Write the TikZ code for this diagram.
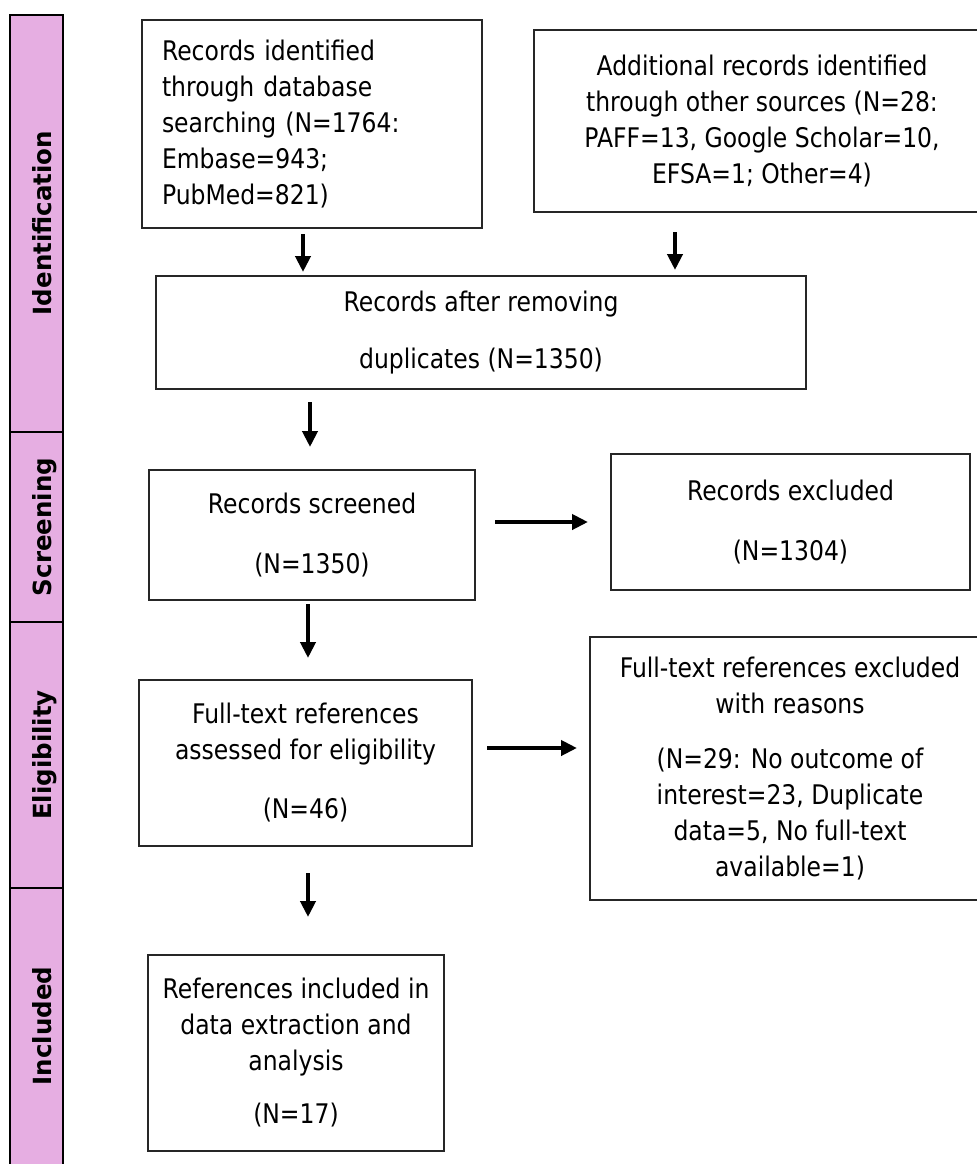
\documentclass[tikz,border=0pt]{standalone}
\usepackage{fontspec}
\setmainfont{DejaVu Sans}[FakeStretch=0.87]
\newfontfamily\barfont{DejaVu Sans}[FakeStretch=0.98]
\usepackage{tikz}
\usetikzlibrary{arrows.meta}
\definecolor{stage}{RGB}{230,174,226}
\tikzset{font=\fontsize{13.5}{18}\selectfont}
\tikzstyle{box}=[draw=black!85,line width=0.8pt,align=center,inner sep=0pt]
\tikzstyle{stagelabel}=[rotate=90,anchor=base,font=\barfont\bfseries\fontsize{12.5}{15}\selectfont]
\tikzstyle{arr}=[line width=2pt,-{Triangle[length=8pt 0,width=7.5pt 0]}]

\begin{document}
\begin{tikzpicture}[x=0.5pt,y=-0.5pt]
\useasboundingbox (0,0) rectangle (977,1164);
\clip (0,0) rectangle (977,1164);
% stage bar on the left
\draw[line width=1pt,fill=stage] (10,15) rectangle (63,1185);
\draw[line width=1pt] (10,432) -- (63,432) (10,622) -- (63,622) (10,888) -- (63,888);
\node[stagelabel] (S1) at (52,223) {Identification};
\node[stagelabel] (S2) at (52,527) {Screening};
\node[stagelabel] (S3) at (52,755) {Eligibility};
\node[stagelabel] (S4) at (52,1026) {Included};
% boxes
\node[box,minimum width=170pt,minimum height=104pt,text width=150pt,align=left] (A) at (312,124)
  {Records identified\\through database\\searching (N=1764:\\Embase=943;\\PubMed=821)};
\node[box,minimum width=228pt,minimum height=91pt] (B) at (762,121)
  {Additional records identified\\through other sources (N=28:\\PAFF=13, Google Scholar=10,\\EFSA=1; Other=4)};
\node[box,minimum width=325pt,minimum height=56.5pt] (C) at (481,332.5)
  {Records after removing\\[10.5pt]duplicates (N=1350)};
\node[box,minimum width=163pt,minimum height=65pt] (D) at (312,535)
  {Records screened\\[12pt](N=1350)};
\node[box,minimum width=179.5pt,minimum height=68pt] (E) at (790.5,522)
  {Records excluded\\[12pt](N=1304)};
\node[box,minimum width=166.5pt,minimum height=83pt] (F) at (305.5,763)
  {Full-text references\\assessed for eligibility\\[11.5pt](N=46)};
\node[box,minimum width=200pt,minimum height=131.5pt] (G) at (790,768.5)
  {Full-text references excluded\\with reasons\\[9.5pt](N=29: No outcome of\\interest=23, Duplicate\\data=5, No full-text\\available=1)};
\node[box,minimum width=148pt,minimum height=98pt] (H) at (296,1053)
  {References included in\\data extraction and\\analysis\\[8.5pt](N=17)};
% arrow ends
\coordinate (a1) at (303,234); \coordinate (b1) at (303,272);
\coordinate (a2) at (675,232); \coordinate (b2) at (675,270);
\coordinate (a3) at (310,402); \coordinate (b3) at (310,447);
\coordinate (a4) at (308,604); \coordinate (b4) at (308,658);
\coordinate (a5) at (308,873); \coordinate (b5) at (308,917);
\coordinate (c1) at (495,522); \coordinate (d1) at (588,522);
\coordinate (c2) at (487,748); \coordinate (d2) at (577,748);
\foreach \s/\e in {a1/b1,a2/b2,a3/b3,a4/b4,a5/b5,c1/d1,c2/d2}
  \draw[arr] (\s) -- (\e);
\end{tikzpicture}
\end{document}
